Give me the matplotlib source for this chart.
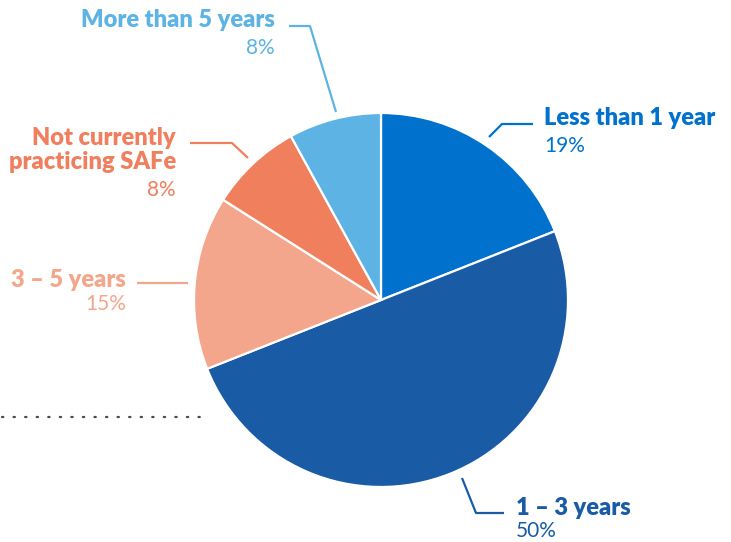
import matplotlib.pyplot as plt

# data
labels = ["Less than 1 year", "1 \u2013 3 years", "3 \u2013 5 years",
          "Not currently\npracticing SAFe", "More than 5 years"]
shares = [19, 50, 15, 8, 8]
colors = ["#0072CE", "#1A5BA6", "#F4A68C", "#F07F5E", "#5DB3E4"]

W, H = 731, 542
fig = plt.figure(figsize=(W / 100, H / 100), dpi=100)
ax = fig.add_axes([0, 0, 1, 1])

def Y(y):
    # pixel row -> data y
    return H - y

ax.pie(shares, colors=colors, startangle=90, counterclock=False,
       center=(381, Y(300)), radius=187, frame=True,
       wedgeprops=dict(edgecolor="white", linewidth=1.6))
ax.set_xlim(0, W)
ax.set_ylim(0, H)
ax.set_aspect("equal")
ax.axis("off")

# leader lines (pixel coordinates of the guides)
leaders = [
    [(489, 137), (502, 124), (533, 124)],
    [(462, 478), (476, 513), (504, 513)],
    [(188, 283), (137, 283)],
    [(248, 158), (232, 143), (190, 143)],
    [(336, 112), (310, 26), (289, 26)],
]
for pts, c in zip(leaders, colors):
    ax.plot([p[0] for p in pts], [Y(p[1]) for p in pts], color=c, lw=1.6,
            solid_capstyle="butt")

# label positions: x, y of name, y of percent, alignment
pos = [
    (544, 118, 146, "left"),
    (516, 508, 531, "left"),
    (126, 280, 304, "right"),
    (176, 150, 190, "right"),
    (275, 20, 48, "right"),
]
for lab, s, c, (x, yl, yp, ha) in zip(labels, shares, colors, pos):
    ax.text(x, Y(yl), lab, color=c, ha=ha, va="center", fontsize=17,
            fontweight="heavy", family="Lato", linespacing=1.1)
    ax.text(x, Y(yp), f"{s}%", color=c, ha=ha, va="center", fontsize=15,
            fontweight="normal", family="Lato")

# dotted divider on the left
ax.plot([2, 210], [Y(417), Y(417)], color="#4a4a4a", lw=1.6,
        linestyle=(0, (0.6, 4.6)), dash_capstyle="round")

fig.savefig("out.png", dpi=100)
